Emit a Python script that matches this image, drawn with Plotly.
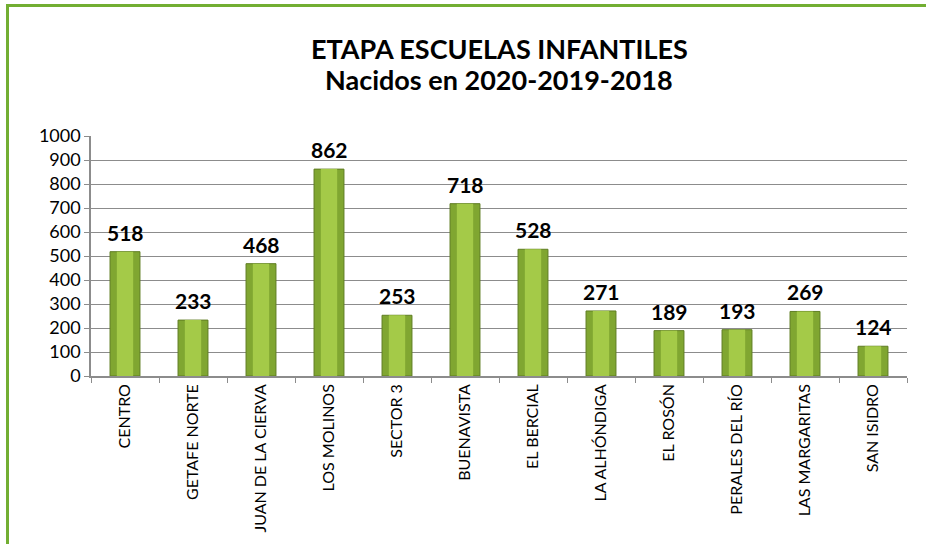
import plotly.graph_objects as go

categories = ["CENTRO", "GETAFE NORTE", "JUAN DE LA CIERVA", "LOS MOLINOS", "SECTOR 3",
              "BUENAVISTA", "EL BERCIAL", "LA ALHÓNDIGA", "EL ROSÓN", "PERALES DEL RÍO",
              "LAS MARGARITAS", "SAN ISIDRO"]
values = [518, 233, 468, 862, 253, 718, 528, 271, 189, 193, 269, 124]
y_ticks = [0, 100, 200, 300, 400, 500, 600, 700, 800, 900, 1000]
title_lines = ["ETAPA ESCUELAS INFANTILES", "Nacidos en 2020-2019-2018"]

W, H = 926, 544
ml, mr, mt, mb = 91, 19, 136, 168
pw, ph = W - ml - mr, H - mt - mb
FONT = "Lato, Carlito, sans-serif"

def px_x(p):
    return (p - ml) / pw

def px_y(p):
    return (H - mb - p) / ph

fig = go.Figure()
fig.add_trace(go.Bar(
    x=categories, y=values, width=0.44,
    marker=dict(color="#80A631", line=dict(color="#5F7D22", width=1)),
    cliponaxis=False, hoverinfo="skip", showlegend=False,
))
fig.add_trace(go.Bar(
    x=categories, y=values, width=0.24,
    marker=dict(color="#A4CA48", line=dict(width=0)),
    hoverinfo="skip", showlegend=False,
))

annotations = []
for c, v in zip(categories, values):
    annotations.append(dict(
        x=c, y=v, xref="x", yref="y", text="<b>%d</b>" % v,
        showarrow=False, yanchor="bottom", xanchor="center", yshift=5,
        font=dict(family=FONT, size=21, color="#000000"),
    ))
for i, (line, ypx) in enumerate(zip(title_lines, [48, 80])):
    annotations.append(dict(
        x=0.5, y=1 - ypx / H, xref="paper", yref="paper", text="<b>%s</b>" % line,
        showarrow=False, yanchor="middle", xanchor="center",
        font=dict(family=FONT, size=27, color="#000000"),
    ))
# paper y for container positions
for a in annotations[len(values):]:
    a["y"] = px_y(H * (1 - a["y"]))

fig.update_layout(
    width=W, height=H,
    margin=dict(l=ml, r=mr, t=mt, b=mb),
    barmode="overlay",
    paper_bgcolor="#FFFFFF", plot_bgcolor="#FFFFFF",
    font=dict(family=FONT, color="#000000"),
    annotations=annotations,
    xaxis=dict(
        type="category", tickangle=-90, tickson="boundaries",
        ticks="outside", ticklen=5, tickcolor="#8C8C8C",
        showline=True, linecolor="#8C8C8C", linewidth=1.5,
        showgrid=False,
        tickfont=dict(family=FONT, size=16, color="#000000"),
    ),
    yaxis=dict(
        range=[0, 1000], tickvals=y_ticks,
        ticks="outside", ticklen=5, tickcolor="#8C8C8C",
        showline=True, linecolor="#8C8C8C", linewidth=1.5,
        showgrid=True, gridcolor="#8C8C8C", gridwidth=1.3,
        zeroline=False,
        tickfont=dict(family=FONT, size=18, color="#000000"),
    ),
    shapes=[dict(
        type="rect", xref="paper", yref="paper",
        x0=px_x(7.5), x1=px_x(960), y0=px_y(600), y1=px_y(5.5),
        line=dict(color="#72AE32", width=3), fillcolor="rgba(0,0,0,0)",
        layer="above",
    )],
)

fig.write_html("out.html", config={"displayModeBar": False},
               post_script="document.body.style.margin='0';")
